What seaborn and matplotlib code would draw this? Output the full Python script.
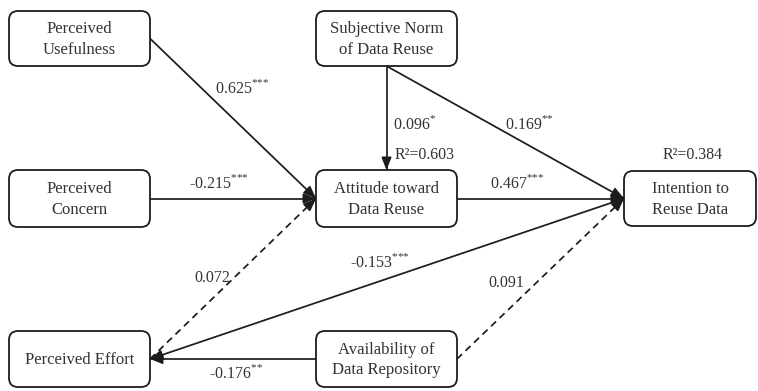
import numpy as np
import pandas as pd
import matplotlib
matplotlib.use("Agg")
import matplotlib.pyplot as plt
from matplotlib.patches import FancyBboxPatch
import seaborn as sns

# constructs in the model
nodes = ["PU", "SN", "PC", "ATT", "INT", "PE", "AV"]
node_labels = ["Perceived\nUsefulness", "Subjective Norm\nof Data Reuse", "Perceived\nConcern",
               "Attitude toward\nData Reuse", "Intention to\nReuse Data", "Perceived Effort",
               "Availability of\nData Repository"]

# structural paths (source -> target), coefficients and significance
edge_src = ["PU", "PC", "PE", "SN", "SN", "ATT", "INT", "AV", "AV"]
edge_dst = ["ATT", "ATT", "ATT", "ATT", "INT", "INT", "PE", "PE", "INT"]
coefs = [0.625, -0.215, 0.072, 0.096, 0.169, 0.467, -0.153, -0.176, 0.091]
stars = ["***", "***", "", "*", "**", "***", "***", "**", ""]

# explained variance
r2_nodes = ["ATT", "INT"]
r2_values = [0.603, 0.384]

# ---- layout (pixels) ----
box = {  # x0, y0, x1, y1
    "PU": (9, 11, 150, 66), "SN": (316, 11, 457, 66),
    "PC": (9, 170, 150, 227), "ATT": (316, 170, 457, 227),
    "INT": (624, 171, 756, 226),
    "PE": (9, 331, 150, 387), "AV": (316, 331, 457, 387),
}
anchor_out = {"PU": "r", "PC": "r", "PE": "r", "SN": "b", "ATT": "r", "INT": "l", "AV": "l"}
label_pos = [(242, 88, "center"), (219, 183, "center"), (212, 278, "center"),
             (393, 124, "left"), (529, 124, "center"), (517, 183, "center"),
             (380, 262, "center"), (236, 373, "center"), (506, 283, "center")]
r2_pos = [(395, 155, "left"), (693, 155, "center")]


def side(n, s):
    x0, y0, x1, y1 = box[n]
    return {"l": (x0, (y0 + y1) / 2), "r": (x1, (y0 + y1) / 2),
            "t": ((x0 + x1) / 2, y0), "b": ((x0 + x1) / 2, y1)}[s]


def endpoints(s, d):
    if s == "SN" and d == "ATT":
        return side("SN", "b"), side("ATT", "t")
    if s == "SN" and d == "INT":
        return side("SN", "b"), side("INT", "l")
    if s == "AV" and d == "INT":
        return side("AV", "r"), side("INT", "l")
    if d == "PE":
        return side(s, "l"), side("PE", "r")
    return side(s, anchor_out[s]), side(d, "l")


sns.set_theme(style="white")
plt.rcParams["font.family"] = ["Liberation Serif", "DejaVu Serif"]
plt.rcParams["mathtext.fontset"] = "custom"
plt.rcParams["mathtext.rm"] = "Liberation Serif"

ink = "#1c1c1c"
txt = "#333333"

fig = plt.figure(figsize=(7.58, 3.91), dpi=100)
ax = fig.add_axes([0, 0, 1, 1])
ax.set_xlim(0, 758)
ax.set_ylim(391, 0)
ax.axis("off")

rows = []
for i, (s, d) in enumerate(zip(edge_src, edge_dst)):
    (xa, ya), (xb, yb) = endpoints(s, d)
    kind = "solid" if stars[i] else "dashed"
    rows.append({"edge": i, "x": xa, "y": ya, "kind": kind})
    rows.append({"edge": i, "x": xb, "y": yb, "kind": kind})
edges = pd.DataFrame(rows)

sns.lineplot(data=edges, x="x", y="y", units="edge", estimator=None, sort=False,
             style="kind", dashes={"solid": "", "dashed": (4, 2.8)},
             color=ink, linewidth=1.25, legend=False, ax=ax)

for i, (s, d) in enumerate(zip(edge_src, edge_dst)):
    (xa, ya), (xb, yb) = endpoints(s, d)
    v = np.array([xb - xa, yb - ya], float)
    v /= np.linalg.norm(v)
    back = (xb - 12 * v[0], yb - 12 * v[1])
    ax.annotate("", xy=(xb, yb), xytext=back,
                arrowprops=dict(arrowstyle="-|>,head_length=0.75,head_width=0.3",
                                color=ink, lw=1.2, shrinkA=0, shrinkB=0,
                                mutation_scale=10))

for n, lab in zip(nodes, node_labels):
    x0, y0, x1, y1 = box[n]
    ax.add_patch(FancyBboxPatch((x0, y0), x1 - x0, y1 - y0,
                                boxstyle="round,pad=0,rounding_size=9",
                                fc="white", ec=ink, lw=1.3, zorder=3))
    ax.text((x0 + x1) / 2, (y0 + y1) / 2 + 1, lab, ha="center", va="center",
            fontsize=12, color=txt, linespacing=1.38, zorder=4)

for (x, y, ha), c, st in zip(label_pos, coefs, stars):
    s = f"{c:.3f}"
    if st:
        s += r"$^{\text{" + st + "}}$"
    ax.text(x, y, s, ha=ha, va="center", fontsize=11.5, color=txt)

for (x, y, ha), r in zip(r2_pos, r2_values):
    ax.text(x, y, f"R²={r:.3f}", ha=ha, va="center", fontsize=11.5, color=txt)

fig.savefig("out.png", dpi=100)
